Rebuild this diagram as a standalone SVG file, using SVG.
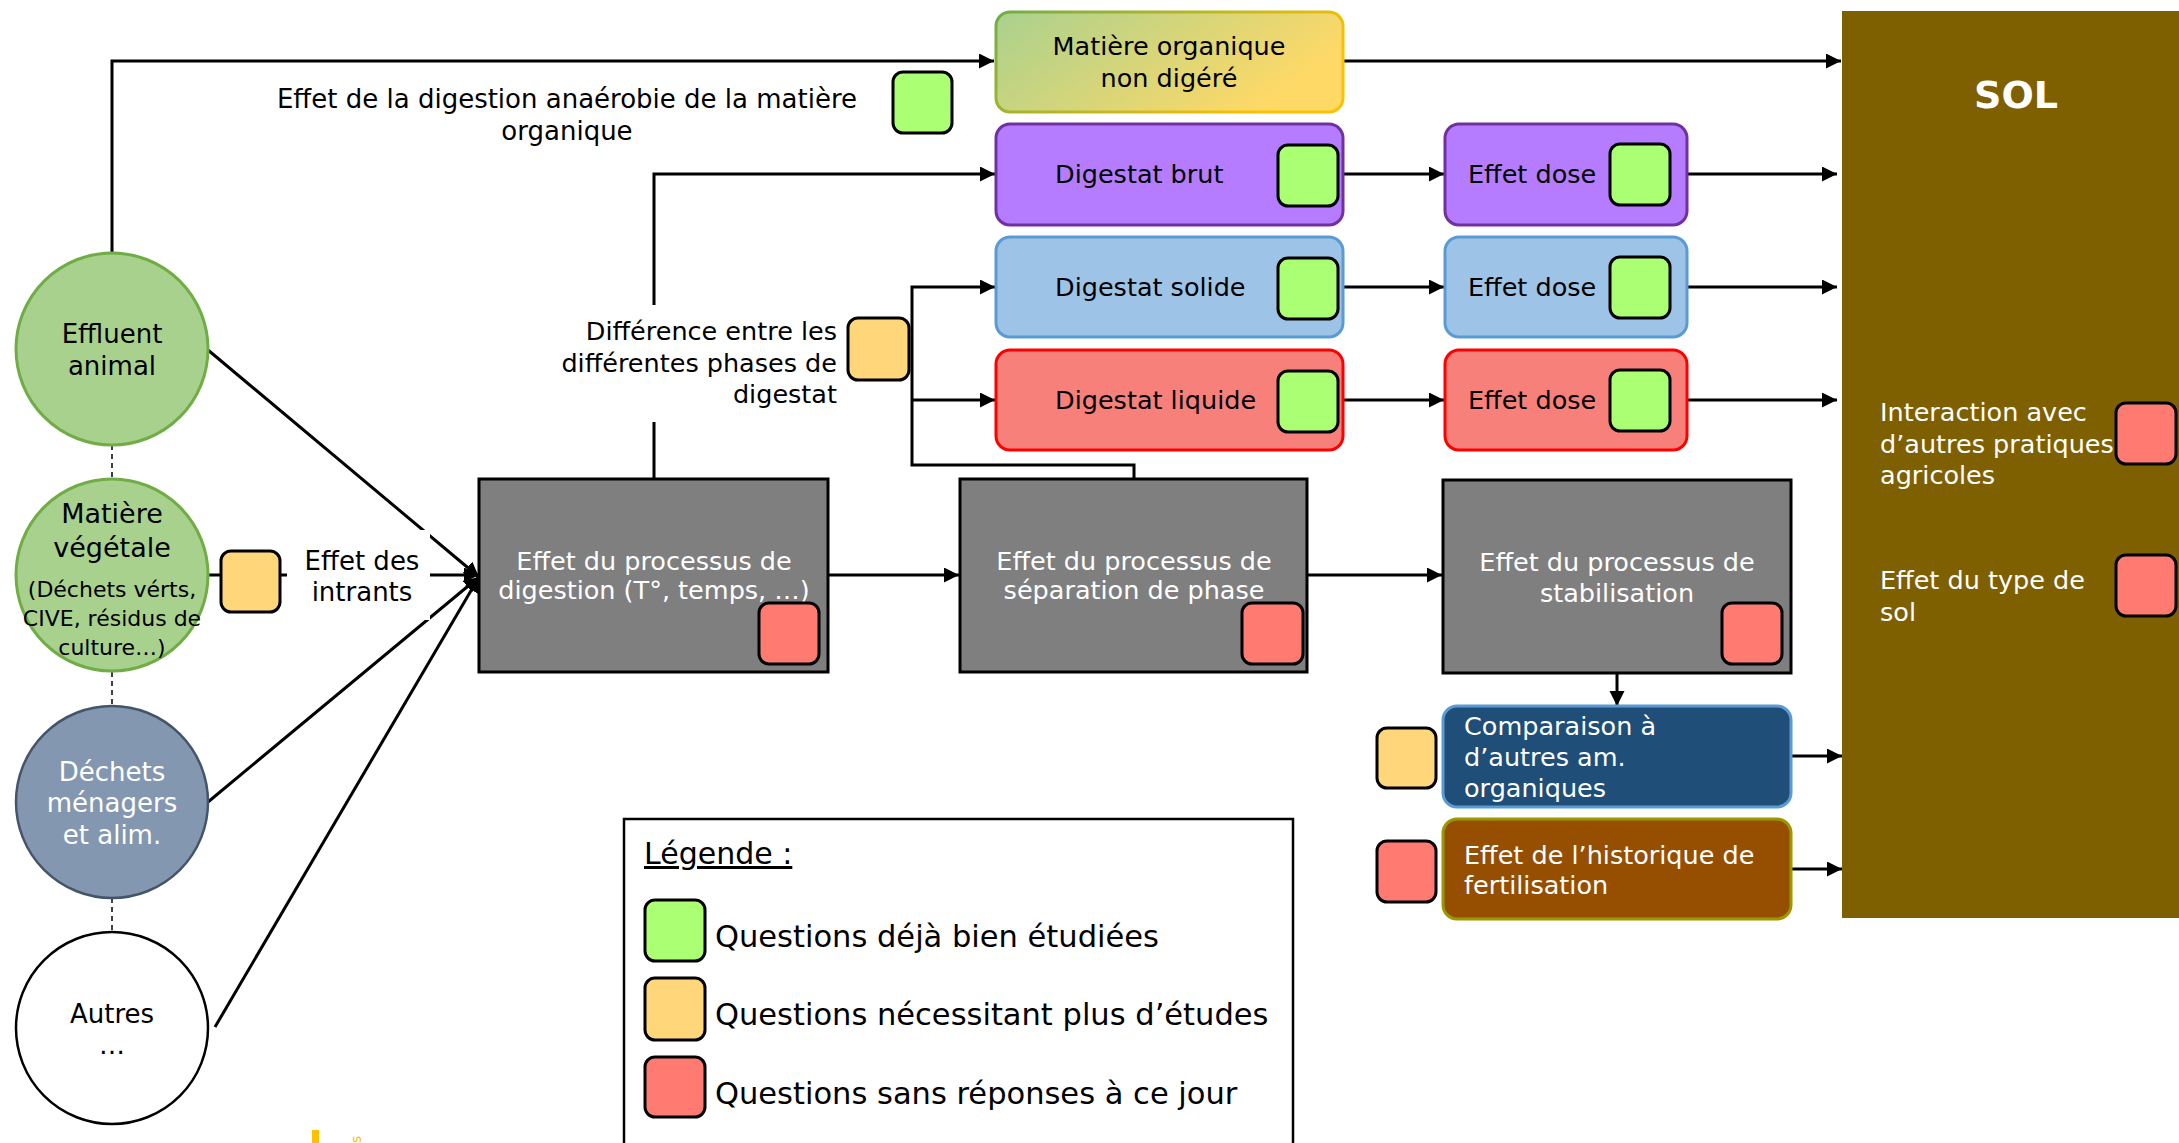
<svg xmlns="http://www.w3.org/2000/svg" width="2179" height="1143" viewBox="0 0 2179 1143">
<defs>
<marker id="arr" markerUnits="userSpaceOnUse" markerWidth="16" markerHeight="16" refX="15" refY="7.5" orient="auto"><path d="M0,0 L15,7.5 L0,15 z" fill="#000"/></marker>
<linearGradient id="mog" x1="0" y1="0" x2="1" y2="0.4"><stop offset="0" stop-color="#a9d18e"/><stop offset="1" stop-color="#ffd966"/></linearGradient>
<linearGradient id="mos" x1="0" y1="0" x2="1" y2="0.4"><stop offset="0" stop-color="#70ad47"/><stop offset="1" stop-color="#ffc000"/></linearGradient>
<style>
text{font-family:"DejaVu Sans",sans-serif;font-size:26px;fill:#000}
.b{font-size:25.5px}
.w{fill:#fff}
.c{text-anchor:middle}
.r{text-anchor:end}
.ln{fill:none;stroke:#000;stroke-width:3}
.dl{fill:none;stroke:#000;stroke-width:1.5;stroke-dasharray:5,4}
.sq{stroke:#000;stroke-width:3}
.g{fill:#aaff72}.o{fill:#ffd77a}.rd{fill:#ff7b72}
.proc{fill:#7f7f7f;stroke:#000;stroke-width:3}
.lg{font-size:30.5px}
</style>
</defs>
<rect width="2179" height="1143" fill="#fff"/>

<g id="sol">
<rect x="1842" y="11" width="337" height="907" fill="#7f6000"/>
<text x="2016" y="108" class="w c" style="font-weight:bold;font-size:38px">SOL</text>
<text x="1880" y="421" class="w b">Interaction avec</text>
<text x="1880" y="453" class="w b">d’autres pratiques</text>
<text x="1880" y="484" class="w b">agricoles</text>
<rect x="2116" y="403" width="60" height="61" rx="10" class="sq rd"/>
<text x="1880" y="589" class="w b">Effet du type de</text>
<text x="1880" y="621" class="w b">sol</text>
<rect x="2116" y="555" width="60" height="61" rx="10" class="sq rd"/>
</g>

<g id="connectors">
<polyline class="ln" points="112,253 112,61 994,61" marker-end="url(#arr)"/>
<line class="ln" x1="1343" y1="61" x2="1841" y2="61" marker-end="url(#arr)"/>
<polyline class="ln" points="654,479 654,174 995,174" marker-end="url(#arr)"/>
<polyline class="ln" points="1134,479 1134,465 912,465 912,287 995,287" marker-end="url(#arr)"/>
<line class="ln" x1="912" y1="400" x2="995" y2="400" marker-end="url(#arr)"/>
<line class="ln" x1="1338" y1="174" x2="1444" y2="174" marker-end="url(#arr)"/>
<line class="ln" x1="1338" y1="287" x2="1444" y2="287" marker-end="url(#arr)"/>
<line class="ln" x1="1338" y1="400" x2="1444" y2="400" marker-end="url(#arr)"/>
<line class="ln" x1="1687" y1="174" x2="1837" y2="174" marker-end="url(#arr)"/>
<line class="ln" x1="1687" y1="287" x2="1837" y2="287" marker-end="url(#arr)"/>
<line class="ln" x1="1687" y1="400" x2="1837" y2="400" marker-end="url(#arr)"/>
<line class="ln" x1="208" y1="350" x2="479" y2="577" marker-end="url(#arr)" stroke-width="2.5"/>
<line class="ln" x1="208" y1="802" x2="479" y2="577" marker-end="url(#arr)" stroke-width="2.5"/>
<line class="ln" x1="215" y1="1027" x2="479" y2="577" marker-end="url(#arr)" stroke-width="2.5"/>
<line class="ln" x1="208" y1="575" x2="221" y2="575"/>
<line class="ln" x1="280" y1="575" x2="479" y2="575" marker-end="url(#arr)"/>
<line class="ln" x1="828" y1="575" x2="959" y2="575" marker-end="url(#arr)"/>
<line class="ln" x1="1307" y1="575" x2="1442" y2="575" marker-end="url(#arr)"/>
<line class="ln" x1="1617" y1="673" x2="1617" y2="706" marker-end="url(#arr)" stroke-width="2.5"/>
<line class="ln" x1="1791" y1="756" x2="1842" y2="756" marker-end="url(#arr)"/>
<line class="ln" x1="1791" y1="869" x2="1842" y2="869" marker-end="url(#arr)"/>
<line class="dl" x1="112" y1="445" x2="112" y2="479"/>
<line class="dl" x1="112" y1="672" x2="112" y2="705"/>
<line class="dl" x1="112" y1="898" x2="112" y2="932"/>
</g>

<g id="label-anaerobie">
<text x="567" y="108" class="c">Effet de la digestion anaérobie de la matière</text>
<text x="567" y="140" class="c">organique</text>
<rect x="893" y="72" width="59" height="61" rx="10" class="sq g"/>
</g>

<g id="label-difference">
<rect x="555" y="305" width="287" height="117" fill="#fff"/>
<text x="837" y="340" class="r b">Différence entre les</text>
<text x="837" y="372" class="r b">différentes phases de</text>
<text x="837" y="403" class="r b">digestat</text>
<rect x="848" y="318" width="61" height="62" rx="10" class="sq o"/>
</g>

<g id="label-intrants">
<rect x="287" y="530" width="143" height="90" fill="#fff"/>
<text x="362" y="570" class="c">Effet des</text>
<text x="362" y="601" class="c">intrants</text>
<rect x="221" y="551" width="59" height="61" rx="10" class="sq o"/>
</g>

<g id="effluent">
<circle cx="112" cy="349" r="96" fill="#a9d18e" stroke="#70ad47" stroke-width="3"/>
<text x="112" y="343" class="c">Effluent</text>
<text x="112" y="375" class="c">animal</text>
</g>
<g id="vegetale">
<circle cx="112" cy="575" r="96" fill="#a9d18e" stroke="#70ad47" stroke-width="3"/>
<text x="112" y="523" class="c" style="font-size:27px">Matière</text>
<text x="112" y="557" class="c" style="font-size:27px">végétale</text>
<text x="112" y="597" class="c" style="font-size:22px">(Déchets vérts,</text>
<text x="112" y="626" class="c" style="font-size:22px">CIVE, résidus de</text>
<text x="112" y="655" class="c" style="font-size:22px">culture…)</text>
</g>
<g id="dechets">
<circle cx="112" cy="802" r="96" fill="#8497b0" stroke="#44546a" stroke-width="2.5"/>
<text x="112" y="781" class="c w">Déchets</text>
<text x="112" y="812" class="c w">ménagers</text>
<text x="112" y="844" class="c w">et alim.</text>
</g>
<g id="autres">
<circle cx="112" cy="1028" r="96" fill="#fff" stroke="#000" stroke-width="2.5"/>
<text x="112" y="1023" class="c">Autres</text>
<text x="112" y="1054" class="c">…</text>
</g>

<g id="digestion">
<rect x="479" y="479" width="349" height="193" class="proc"/>
<text x="654" y="570" class="c w b">Effet du processus de</text>
<text x="654" y="599" class="c w b">digestion (T°, temps, …)</text>
<rect x="759" y="603" width="60" height="61" rx="10" class="sq rd"/>
</g>
<g id="separation">
<rect x="960" y="479" width="347" height="193" class="proc"/>
<text x="1134" y="570" class="c w b">Effet du processus de</text>
<text x="1134" y="599" class="c w b">séparation de phase</text>
<rect x="1242" y="603" width="61" height="61" rx="10" class="sq rd"/>
</g>
<g id="stabilisation">
<rect x="1443" y="480" width="348" height="193" class="proc"/>
<text x="1617" y="571" class="c w b">Effet du processus de</text>
<text x="1617" y="602" class="c w b">stabilisation</text>
<rect x="1722" y="603" width="60" height="61" rx="10" class="sq rd"/>
</g>

<g id="mo-non-digere">
<rect x="996" y="12" width="347" height="100" rx="14" fill="url(#mog)" stroke="url(#mos)" stroke-width="3"/>
<text x="1169" y="55" class="c b">Matière organique</text>
<text x="1169" y="87" class="c b">non digéré</text>
</g>
<g id="digestat-brut">
<rect x="996" y="124" width="347" height="101" rx="14" fill="#b57cff" stroke="#7030a0" stroke-width="3"/>
<text x="1055" y="183" class="b">Digestat brut</text>
<rect x="1278" y="145" width="60" height="61" rx="10" class="sq g"/>
</g>
<g id="dose-brut">
<rect x="1445" y="124" width="242" height="101" rx="14" fill="#b57cff" stroke="#7030a0" stroke-width="3"/>
<text x="1468" y="183" class="b">Effet dose</text>
<rect x="1610" y="144" width="60" height="61" rx="10" class="sq g"/>
</g>
<g id="digestat-solide">
<rect x="996" y="237" width="347" height="100" rx="14" fill="#9dc3e6" stroke="#5b9bd5" stroke-width="3"/>
<text x="1055" y="296" class="b">Digestat solide</text>
<rect x="1278" y="258" width="60" height="61" rx="10" class="sq g"/>
</g>
<g id="dose-solide">
<rect x="1445" y="237" width="242" height="100" rx="14" fill="#9dc3e6" stroke="#5b9bd5" stroke-width="3"/>
<text x="1468" y="296" class="b">Effet dose</text>
<rect x="1610" y="257" width="60" height="61" rx="10" class="sq g"/>
</g>
<g id="digestat-liquide">
<rect x="996" y="350" width="347" height="100" rx="14" fill="#f8807a" stroke="#ff0000" stroke-width="3"/>
<text x="1055" y="409" class="b">Digestat liquide</text>
<rect x="1278" y="371" width="60" height="61" rx="10" class="sq g"/>
</g>
<g id="dose-liquide">
<rect x="1445" y="350" width="242" height="100" rx="14" fill="#f8807a" stroke="#ff0000" stroke-width="3"/>
<text x="1468" y="409" class="b">Effet dose</text>
<rect x="1610" y="370" width="60" height="61" rx="10" class="sq g"/>
</g>

<g id="comparaison">
<rect x="1443" y="706" width="348" height="101" rx="14" fill="#1f4e79" stroke="#5b9bd5" stroke-width="3"/>
<text x="1464" y="735" class="w b">Comparaison à</text>
<text x="1464" y="766" class="w b">d’autres am.</text>
<text x="1464" y="797" class="w b">organiques</text>
<rect x="1377" y="728" width="59" height="60" rx="10" class="sq o"/>
</g>
<g id="historique">
<rect x="1443" y="819" width="348" height="100" rx="14" fill="#964f00" stroke="#999900" stroke-width="3"/>
<text x="1464" y="864" class="w b">Effet de l’historique de</text>
<text x="1464" y="894" class="w b">fertilisation</text>
<rect x="1377" y="841" width="59" height="61" rx="10" class="sq rd"/>
</g>

<g id="legende">
<rect x="624" y="819" width="669" height="340" fill="#fff" stroke="#000" stroke-width="2.5"/>
<text x="644" y="864" style="font-size:30px;text-decoration:underline">Légende :</text>
<rect x="645" y="900" width="60" height="61" rx="10" class="sq g"/>
<text x="715" y="947" class="lg">Questions déjà bien étudiées</text>
<rect x="645" y="978" width="60" height="62" rx="10" class="sq o"/>
<text x="715" y="1025" class="lg">Questions nécessitant plus d’études</text>
<rect x="645" y="1057" width="60" height="60" rx="10" class="sq rd"/>
<text x="715" y="1104" class="lg">Questions sans réponses à ce jour</text>
</g>

<g id="footer-fragment">
<rect x="312" y="1130" width="7" height="13" fill="#ffc000"/>
<text x="0" y="0" transform="translate(361,1143) rotate(-90)" style="font-size:14px;fill:#ffc000">s</text>
</g>
</svg>
